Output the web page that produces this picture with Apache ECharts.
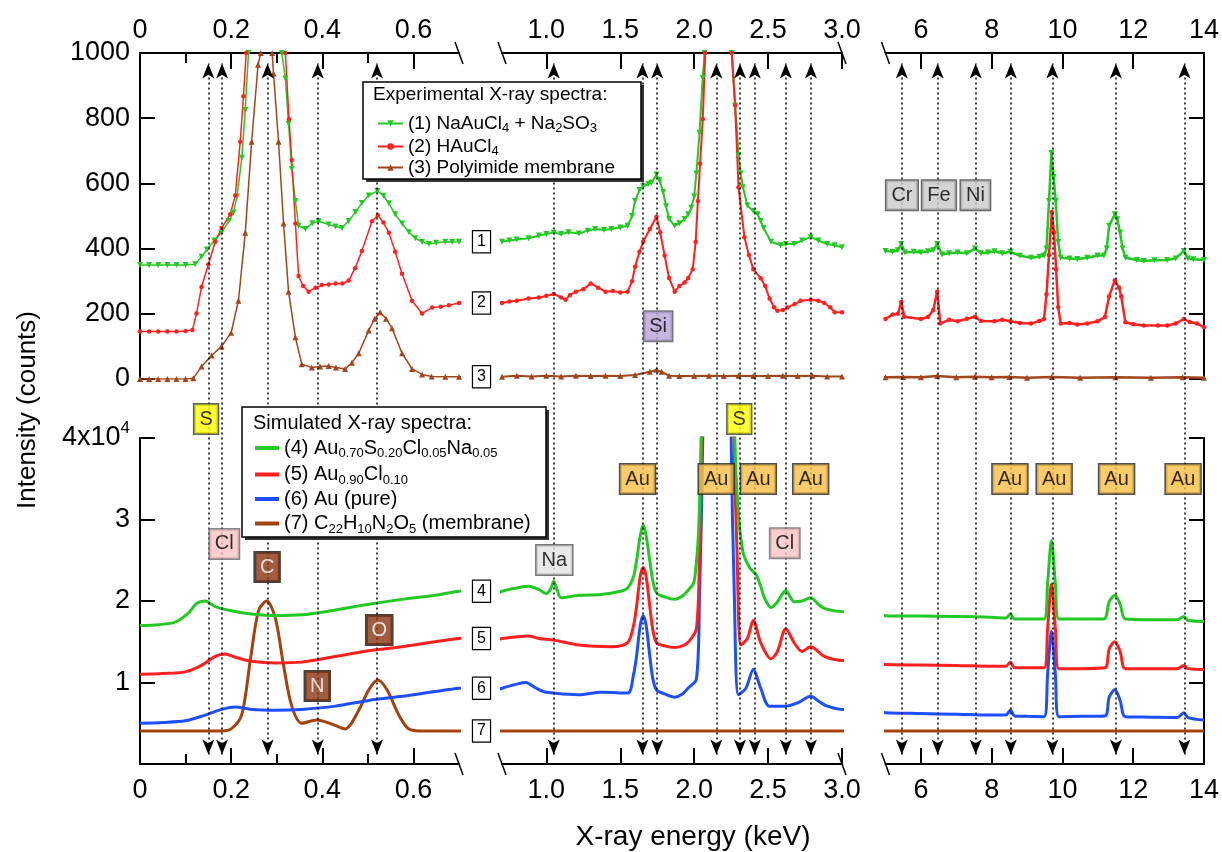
<!DOCTYPE html>
<html><head><meta charset="utf-8">
<script src="https://cdn.jsdelivr.net/npm/echarts/dist/echarts.min.js"></script>
<style>html,body{margin:0;padding:0;background:#fff}#c{width:1222px;height:852px}</style>
</head><body><div id="c"></div><script>
const FONT = "'Liberation Sans', Arial, Helvetica, sans-serif";

// ---------- DATA ----------
// Experimental spectra: [energy keV, counts]
const exp1 = [
 [0,350],[0.02,350],[0.04,350],[0.06,350],[0.08,350],[0.1,350],[0.121,352],[0.135,375],[0.147,397],[0.163,425],[0.179,449],[0.195,485],[0.205,511],[0.213,560],[0.2235,679],[0.231,825],[0.238,1000],[0.277,3200],[0.311,1000],[0.319,922],[0.326,783],[0.333,644],[0.341,546],[0.348,470],[0.363,460],[0.378,478],[0.392,484],[0.414,474],[0.429,468],[0.443,463],[0.458,485],[0.473,512],[0.487,540],[0.502,563],[0.521,577],[0.534,562],[0.546,539],[0.56,505],[0.575,477],[0.59,450],[0.604,432],[0.619,420],[0.634,414],[0.65,418],[0.67,421],[0.685,420],[0.7,421],
 [0.75,425],[0.8,428],[0.88,432],[0.95,440],[1.0,445],[1.05,449],[1.1,445],[1.15,450],[1.22,446],[1.28,455],[1.33,460],[1.39,457],[1.44,460],[1.5,465],[1.55,470],[1.58,500],[1.6,546],[1.63,580],[1.655,591],[1.69,598],[1.71,602],[1.745,627],[1.765,610],[1.79,574],[1.81,530],[1.83,491],[1.868,470],[1.9,478],[1.935,491],[1.96,505],[1.98,525],[2.0,560],[2.015,630],[2.036,755],[2.058,923],[2.07,1000],[2.16,5000],[2.254,1000],[2.277,839],[2.3,686],[2.315,630],[2.33,588],[2.36,532],[2.4,515],[2.43,505],[2.45,485],[2.47,463],[2.52,421],[2.585,410],[2.62,414],[2.676,414],[2.73,425],[2.788,435],[2.84,425],[2.9,414],[2.95,410],[3.0,404],
 [5.0,393],[5.2,390],[5.35,395],[5.445,414],[5.55,388],[5.8,390],[6.0,388],[6.2,392],[6.35,395],[6.46,414],[6.6,382],[6.8,386],[7.04,388],[7.3,386],[7.53,400],[7.7,386],[7.9,388],[8.08,392],[8.3,386],[8.53,390],[8.8,378],[9.11,372],[9.35,375],[9.48,379],[9.55,400],[9.62,546],[9.69,693],[9.75,620],[9.81,546],[9.88,420],[9.95,372],[10.2,370],[10.42,368],[10.7,372],[10.99,379],[11.17,379],[11.25,400],[11.32,470],[11.48,505],[11.55,490],[11.63,449],[11.7,400],[11.78,372],[12.1,365],[12.3,362],[12.6,364],[12.96,365],[13.2,370],[13.43,393],[13.55,370],[13.7,367],[14.0,365]
];
const exp2 = [
 [0,146],[0.02,146],[0.04,146],[0.06,146],[0.08,146],[0.1,147],[0.115,150],[0.124,201],[0.135,282],[0.15,351],[0.165,421],[0.179,463],[0.198,505],[0.209,563],[0.22,728],[0.227,867],[0.233,1000],[0.277,4000],[0.319,1000],[0.327,797],[0.333,672],[0.341,477],[0.348,316],[0.358,285],[0.37,268],[0.385,280],[0.399,288],[0.414,290],[0.429,293],[0.444,293],[0.458,302],[0.472,340],[0.487,393],[0.509,484],[0.522,502],[0.534,480],[0.546,449],[0.56,390],[0.575,323],[0.597,240],[0.619,201],[0.641,219],[0.66,222],[0.678,226],[0.7,233],
 [0.75,238],[0.8,240],[0.88,247],[0.95,250],[1.0,255],[1.05,261],[1.1,250],[1.13,243],[1.16,258],[1.2,268],[1.25,275],[1.3,293],[1.35,280],[1.4,268],[1.45,270],[1.5,265],[1.55,268],[1.58,300],[1.6,344],[1.63,390],[1.655,421],[1.7,460],[1.745,498],[1.77,450],[1.8,379],[1.83,310],[1.868,268],[1.9,285],[1.935,296],[1.96,310],[1.99,337],[2.01,420],[2.025,546],[2.04,660],[2.058,797],[2.075,1000],[2.16,6000],[2.254,1000],[2.277,839],[2.3,588],[2.34,435],[2.37,380],[2.4,337],[2.45,309],[2.48,285],[2.51,247],[2.54,220],[2.563,209],[2.6,212],[2.63,219],[2.68,230],[2.72,240],[2.788,243],[2.84,240],[2.88,233],[2.92,220],[2.95,205],[3.0,205],
 [5.0,184],[5.2,198],[5.35,200],[5.445,236],[5.53,191],[6.0,184],[6.2,190],[6.35,212],[6.46,268],[6.55,170],[6.8,182],[7.04,177],[7.3,185],[7.53,191],[7.7,178],[8.08,177],[8.3,182],[8.53,177],[8.8,172],[9.11,170],[9.35,178],[9.48,184],[9.55,260],[9.62,380],[9.7,512],[9.76,450],[9.82,337],[9.88,220],[9.95,170],[10.2,172],[10.42,167],[10.7,170],[10.99,177],[11.2,190],[11.32,254],[11.48,302],[11.6,280],[11.66,254],[11.78,174],[12.0,168],[12.3,164],[12.7,164],[12.96,164],[13.2,170],[13.43,184],[13.6,175],[13.8,170],[14.0,159]
];
const exp3 = [
 [0,0],[0.02,0],[0.04,0],[0.06,0],[0.08,0],[0.1,0],[0.117,2],[0.135,38],[0.157,72],[0.179,100],[0.2,142],[0.216,240],[0.231,449],[0.245,728],[0.259,964],[0.265,1000],[0.28,1080],[0.29,1000],[0.293,937],[0.304,728],[0.315,477],[0.326,268],[0.341,128],[0.355,45],[0.377,35],[0.395,38],[0.414,40],[0.43,35],[0.45,31],[0.465,50],[0.48,79],[0.502,149],[0.515,185],[0.527,205],[0.54,185],[0.553,156],[0.575,79],[0.597,31],[0.619,14],[0.64,8],[0.67,7],[0.7,7],
 [0.8,10],[0.9,8],[1.0,10],[1.1,8],[1.2,10],[1.3,9],[1.4,10],[1.5,9],[1.6,12],[1.7,22],[1.745,28],[1.78,22],[1.83,10],[1.9,9],[2.0,9],[2.1,10],[2.2,9],[2.3,10],[2.4,9],[2.5,9],[2.6,10],[2.7,9],[2.8,10],[2.9,8],[3.0,8],
 [5.0,5],[5.5,6],[6.0,5],[6.46,9],[7.0,5],[7.53,7],[8.0,5],[8.5,6],[9.0,4],[9.7,6],[10.5,4],[11.5,5],[12.5,4],[13.4,5],[14.0,4]
];
// Simulated spectra: [energy keV, counts x 10^4]
const sim4 = [
 [0,1.70],[0.04,1.71],[0.077,1.74],[0.106,1.85],[0.124,1.97],[0.143,2.0],[0.165,1.93],[0.2,1.88],[0.245,1.84],[0.297,1.82],[0.355,1.83],[0.429,1.89],[0.502,1.96],[0.575,2.02],[0.648,2.07],[0.7,2.12],
 [0.8,2.16],[0.88,2.18],[0.95,2.14],[1.0,2.09],[1.03,2.15],[1.05,2.24],[1.07,2.15],[1.1,2.04],[1.22,2.07],[1.37,2.08],[1.5,2.12],[1.55,2.16],[1.59,2.3],[1.61,2.49],[1.635,2.8],[1.655,2.93],[1.675,2.8],[1.7,2.49],[1.72,2.25],[1.745,2.1],[1.8,2.05],[1.868,2.02],[1.92,2.06],[1.958,2.13],[1.99,2.2],[2.003,2.27],[2.025,2.7],[2.036,3.16],[2.047,4.0],[2.16,20],[2.275,4.0],[2.295,3.16],[2.33,2.6],[2.375,2.41],[2.42,2.32],[2.45,2.18],[2.475,2.04],[2.52,1.92],[2.563,1.99],[2.62,2.13],[2.65,2.05],[2.676,1.99],[2.73,2.0],[2.788,2.04],[2.84,1.96],[2.88,1.91],[3.0,1.87],
 [5.0,1.82],[6.0,1.815],[7.0,1.81],[8.0,1.8],[8.4,1.79],[8.53,1.84],[8.65,1.78],[9.0,1.78],[9.48,1.78],[9.58,2.21],[9.69,2.74],[9.8,2.21],[9.9,1.78],[10.5,1.78],[11.17,1.78],[11.32,1.99],[11.48,2.07],[11.63,1.96],[11.78,1.78],[12.5,1.77],[13.25,1.77],[13.43,1.81],[13.55,1.76],[14.0,1.75]
];
const sim5 = [
 [0,1.10],[0.05,1.11],[0.099,1.13],[0.135,1.21],[0.165,1.32],[0.187,1.35],[0.209,1.31],[0.245,1.26],[0.297,1.24],[0.355,1.25],[0.429,1.32],[0.502,1.39],[0.575,1.44],[0.648,1.50],[0.7,1.54],
 [0.8,1.56],[0.88,1.57],[0.95,1.54],[1.05,1.52],[1.22,1.46],[1.44,1.44],[1.55,1.49],[1.59,1.7],[1.61,1.93],[1.635,2.3],[1.655,2.41],[1.675,2.3],[1.7,1.93],[1.72,1.65],[1.745,1.49],[1.8,1.45],[1.868,1.43],[1.92,1.45],[1.958,1.49],[2.015,1.66],[2.036,2.6],[2.05,4.0],[2.16,20],[2.27,4.0],[2.29,2.6],[2.317,1.46],[2.36,1.54],[2.4,1.76],[2.45,1.49],[2.52,1.29],[2.563,1.38],[2.62,1.66],[2.676,1.49],[2.73,1.38],[2.788,1.44],[2.88,1.32],[3.0,1.27],
 [5.0,1.22],[6.0,1.215],[7.0,1.21],[8.0,1.2],[8.4,1.2],[8.53,1.25],[8.65,1.18],[9.0,1.18],[9.48,1.18],[9.58,1.66],[9.69,2.21],[9.8,1.66],[9.9,1.17],[10.5,1.17],[11.2,1.18],[11.32,1.41],[11.48,1.5],[11.63,1.38],[11.78,1.17],[12.5,1.17],[13.25,1.17],[13.43,1.21],[13.55,1.17],[14.0,1.16]
];
const sim6 = [
 [0,0.50],[0.05,0.51],[0.099,0.53],[0.143,0.60],[0.179,0.67],[0.209,0.70],[0.245,0.67],[0.297,0.66],[0.355,0.67],[0.429,0.71],[0.502,0.78],[0.575,0.83],[0.648,0.89],[0.7,0.93],
 [0.8,0.98],[0.86,1.0],[0.93,0.93],[1.0,0.88],[1.22,0.85],[1.37,0.88],[1.55,0.87],[1.59,1.1],[1.61,1.32],[1.635,1.7],[1.655,1.82],[1.675,1.7],[1.7,1.32],[1.72,1.05],[1.745,0.91],[1.8,0.86],[1.868,0.82],[1.92,0.86],[1.958,0.93],[2.015,1.04],[2.036,2.04],[2.058,4.0],[2.16,20],[2.25,4.0],[2.272,2.04],[2.3,0.85],[2.35,0.93],[2.4,1.16],[2.45,0.93],[2.51,0.71],[2.62,0.71],[2.7,0.75],[2.788,0.83],[2.85,0.76],[2.9,0.71],[3.0,0.67],
 [5.0,0.63],[6.0,0.62],[7.0,0.61],[8.0,0.6],[8.4,0.6],[8.53,0.66],[8.65,0.59],[9.0,0.585],[9.48,0.58],[9.58,1.1],[9.69,1.63],[9.8,1.1],[9.9,0.58],[10.5,0.585],[11.2,0.59],[11.32,0.82],[11.48,0.91],[11.63,0.78],[11.78,0.58],[12.5,0.575],[13.25,0.57],[13.43,0.63],[13.55,0.57],[14.0,0.54]
];
const sim7 = [
 [0,0.405],[0.1,0.405],[0.18,0.405],[0.2,0.43],[0.223,0.6],[0.242,1.27],[0.26,1.88],[0.278,2.0],[0.297,1.79],[0.315,1.21],[0.333,0.71],[0.355,0.50],[0.388,0.54],[0.421,0.49],[0.45,0.43],[0.48,0.66],[0.502,0.91],[0.522,1.03],[0.542,0.91],[0.568,0.6],[0.59,0.43],[0.62,0.405],[0.7,0.405],
 [3.0,0.405],[5.0,0.405],[14.0,0.405]
];

const expNames = ['(1) NaAuCl4 + Na2SO3', '(2) HAuCl4', '(3) Polyimide membrane'];
const expRich  = ['(1) NaAuCl{s|4} + Na{s|2}SO{s|3}', '(2) HAuCl{s|4}', '(3) Polyimide membrane'];
const simNames = ['(4) Au0.70S0.20Cl0.05Na0.05', '(5) Au0.90Cl0.10', '(6) Au (pure)', '(7) C22H10N2O5 (membrane)'];
const simRich  = ['(4) Au{s|0.70}S{s|0.20}Cl{s|0.05}Na{s|0.05}', '(5) Au{s|0.90}Cl{s|0.10}', '(6) Au (pure)', '(7) C{s|22}H{s|10}N{s|2}O{s|5} (membrane)'];

// axis ranges / ticks / labels
const xRanges = [[0, 0.7], [0.7, 3.0], [5, 14]];
const xLabelVals = [[0, 0.2, 0.4, 0.6], [1, 1.5, 2, 2.5, 3], [6, 8, 10, 12, 14]];
const xTickVals = [[0.2, 0.4, 0.6], [1, 1.5, 2, 2.5, 3], [6, 8, 10, 12]];
const xMinorVals = [0.1, 0.3, 0.5];
const yTopVals = [0, 200, 400, 600, 800, 1000];
const yBotVals = [1, 2, 3, 4];

// characteristic line energies (arrows)
const peakEnergies = [
  [0.149, 0.182, 0.2785, 0.390, 0.522],
  [1.049, 1.651, 1.745, 2.155, 2.310, 2.407, 2.615, 2.788],
  [5.456, 6.47, 7.54, 8.53, 9.70, 11.49, 13.42]
];

// element annotations: [text, panel, row, energy, value, style]
const elementLabels = [
  ['Cr',2,0,5.465,564,'gray'],['Fe',2,0,6.51,564,'gray'],['Ni',2,0,7.54,564,'gray'],
  ['Si',1,0,1.756,162,'si'],
  ['S',0,1,0.145,4.233,'s'],['S',1,1,2.305,4.233,'s'],
  ['Au',1,1,1.617,3.497,'au'],['Au',1,1,2.149,3.497,'au'],['Au',1,1,2.434,3.497,'au'],['Au',1,1,2.788,3.497,'au'],
  ['Au',2,1,8.516,3.497,'au'],['Au',2,1,9.766,3.497,'au'],['Au',2,1,11.53,3.497,'au'],['Au',2,1,13.41,3.497,'au'],
  ['Na',1,1,1.054,2.503,'na'],['Cl',1,1,2.613,2.71,'cl'],
  ['Cl',0,1,0.185,2.70,'cl'],['C',0,1,0.279,2.417,'org'],['N',0,1,0.389,0.957,'org'],['O',0,1,0.525,1.644,'org']
];

// ---------- LAYOUT / STYLE ----------
const PX = [[140, 459], [502, 842], [885.5, 1205]];
const ROWS = [[53, 379], [438, 764]];
const ARROW = [63.5, 754.5];
const labelStyles = {
  gray:{bg:'#c9c9c9', border:'#444', color:'#000'},
  na:{bg:'#e4e4e4', border:'#555', color:'#000'},
  si:{bg:'#b8a2d8', border:'#555', color:'#000'},
  s:{bg:'#ffff00', border:'#333', color:'#000'},
  au:{bg:'#f9be45', border:'#222', color:'#000'},
  cl:{bg:'#f8c3c3', border:'#666', color:'#000'},
  org:{bg:'#8a3410', border:'#111', color:'#fff'}
};
const AX = {color:'#000', width:2};

const grids = [], xAxes = [], yAxes = [];
for (let r = 0; r < 2; r++) for (let p = 0; p < 3; p++)
  grids.push({left:PX[p][0], width:PX[p][1]-PX[p][0], top:ROWS[r][0], height:ROWS[r][1]-ROWS[r][0]});
for (let p = 0; p < 3; p++)
  grids.push({left:PX[p][0], width:PX[p][1]-PX[p][0], top:ARROW[0], height:ARROW[1]-ARROW[0]});
// duplicate grids of panel 1 (top and bottom rows) carrying the minor ticks
for (let r = 0; r < 2; r++)
  grids.push({left:PX[0][0], width:PX[0][1]-PX[0][0], top:ROWS[r][0], height:ROWS[r][1]-ROWS[r][0]});

const xFmt = [v => v === 0 ? '0' : v.toFixed(1), v => v.toFixed(1), v => String(v)];
for (let r = 0; r < 2; r++) for (let p = 0; p < 3; p++) {
  xAxes.push({
    gridIndex:r*3+p, type:'value', min:xRanges[p][0], max:xRanges[p][1], position:r===0?'top':'bottom',
    axisLine:{show:true, onZero:false, lineStyle:AX},
    axisTick:{show:true, inside:true, length:16, lineStyle:AX, customValues:xTickVals[p]},
    axisLabel:{show:true, customValues:xLabelVals[p], formatter:xFmt[p], fontSize:27, fontFamily:FONT, color:'#000', margin:r===0?9:13},
    splitLine:{show:false}
  });
}
for (let p = 0; p < 3; p++) xAxes.push({gridIndex:6+p, type:'value', min:xRanges[p][0], max:xRanges[p][1], show:false});
for (let r = 0; r < 2; r++) xAxes.push({
  gridIndex:9+r, type:'value', min:0, max:0.7, position:r===0?'top':'bottom',
  axisLine:{show:false, onZero:false}, axisLabel:{show:false}, splitLine:{show:false},
  axisTick:{show:true, inside:true, length:10, lineStyle:AX, customValues:xMinorVals}
});

const yLabelBase = {fontSize:27, fontFamily:FONT, color:'#000', margin:10};
yAxes.push({gridIndex:0, type:'value', min:0, max:1000, position:'left',
  axisLine:{show:true, lineStyle:AX}, splitLine:{show:false},
  axisTick:{show:true, inside:true, length:15, lineStyle:AX, customValues:yTopVals},
  axisLabel:Object.assign({customValues:yTopVals, formatter: v => String(v)}, yLabelBase)});
yAxes.push({gridIndex:1, type:'value', min:0, max:1000, show:false});
yAxes.push({gridIndex:2, type:'value', min:0, max:1000, position:'right',
  axisLine:{show:true, lineStyle:AX}, splitLine:{show:false}, axisLabel:{show:false},
  axisTick:{show:true, inside:true, length:15, lineStyle:AX, customValues:yTopVals}});
yAxes.push({gridIndex:3, type:'value', min:0, max:4, position:'left',
  axisLine:{show:true, lineStyle:AX}, splitLine:{show:false},
  axisTick:{show:true, inside:true, length:15, lineStyle:AX, customValues:yBotVals},
  axisLabel:Object.assign({customValues:yBotVals,
    formatter: v => v === 4 ? '{a|4x10}{b|4}' : String(v),
    rich:{a:{fontSize:27, fontFamily:FONT, color:'#000', lineHeight:30},
          b:{fontSize:17, fontFamily:FONT, color:'#000', lineHeight:17, padding:[0,0,20,0]}}}, yLabelBase)});
yAxes.push({gridIndex:4, type:'value', min:0, max:4, show:false});
yAxes.push({gridIndex:5, type:'value', min:0, max:4, position:'right',
  axisLine:{show:true, lineStyle:AX}, splitLine:{show:false}, axisLabel:{show:false},
  axisTick:{show:true, inside:true, length:15, lineStyle:AX, customValues:yBotVals}});
for (let p = 0; p < 3; p++) yAxes.push({gridIndex:6+p, type:'value', min:0, max:1, show:false});
for (let r = 0; r < 2; r++) yAxes.push({gridIndex:9+r, type:'value', min:0, max:1, show:false});

// ---------- SERIES ----------
const series = [];
const expDefs = [
  {data:exp1, color:'#22c922', symbol:'triangle', rot:180, size:6},
  {data:exp2, color:'#ff2020', symbol:'circle', rot:0, size:4.5},
  {data:exp3, color:'#a0451c', symbol:'triangle', rot:0, size:6}
];
const expWidth = [1.5, 2, 2.5];
expDefs.forEach((d, i) => {
  for (let p = 0; p < 3; p++) series.push({
    type:'line', name:expNames[i], data:d.data, xAxisIndex:p, yAxisIndex:p,
    color:d.color, lineStyle:{color:d.color, width:expWidth[p]},
    symbol:d.symbol, symbolRotate:d.rot, symbolSize:d.size, showSymbol:true, showAllSymbol:true,
    itemStyle:{color:d.color}, clip:true, silent:true, z:3
  });
});
const simDefs = [
  {data:sim4, color:'#22c922'}, {data:sim5, color:'#ff1f1f'},
  {data:sim6, color:'#1e4fff'}, {data:sim7, color:'#a3420f'}
];
simDefs.forEach((d, i) => {
  for (let p = 0; p < 3; p++) series.push({
    type:'line', name:simNames[i], data:d.data, xAxisIndex:3+p, yAxisIndex:3+p,
    color:d.color, lineStyle:{color:d.color, width:3}, symbol:'none', showSymbol:false,
    smooth:0.3, clip:true, silent:true, z:3 + (3 - i) * 0.1
  });
});
// arrows (dotted lines marking characteristic energies)
for (let p = 0; p < 3; p++) series.push({
  type:'line', xAxisIndex:6+p, yAxisIndex:6+p, data:[[xRanges[p][0], -1]], symbol:'none',
  lineStyle:{opacity:0}, silent:true, z:1,
  markLine:{silent:true, animation:false, symbol:['arrow','arrow'], symbolSize:[9,15],
    lineStyle:{color:'#000', type:[2,3], width:1.5, opacity:1}, label:{show:false},
    emphasis:{disabled:true}, data:peakEnergies[p].map(e => ({xAxis:e}))}
});
// element labels
elementLabels.forEach(l => {
  const st = labelStyles[l[5]];
  series.push({
    type:'scatter', xAxisIndex:l[2]*3+l[1], yAxisIndex:l[2]*3+l[1], clip:false, silent:true, z:9,
    symbolSize:1, itemStyle:{color:'rgba(0,0,0,0)'},
    data:[{value:[l[3], l[4]]}],
    label:{show:true, position:'inside', formatter:l[0], fontSize:20, fontFamily:FONT, color:st.color,
      backgroundColor:st.bg, borderColor:st.border, borderWidth:1.5, padding:[4,5,3,5], lineHeight:22}
  });
});

// ---------- DECORATIONS ----------
const graphics = [];
function box(x, y, w, h) {
  graphics.push({type:'rect', shape:{x:x+3, y:y+3, width:w, height:h}, style:{fill:'#333'}, z:7, silent:true});
  graphics.push({type:'rect', shape:{x, y, width:w, height:h}, style:{fill:'#fff', stroke:'#000', lineWidth:1.5}, z:8, silent:true});
}
box(363, 82, 278, 97);
box(242, 407, 304, 130);
graphics.push({type:'text', x:373, y:95, z:10, silent:true,
  style:{text:'Experimental X-ray spectra:', fontSize:19, fontFamily:FONT, fill:'#000', align:'left', verticalAlign:'middle'}});
graphics.push({type:'text', x:253, y:423, z:10, silent:true,
  style:{text:'Simulated X-ray spectra:', fontSize:20, fontFamily:FONT, fill:'#000', align:'left', verticalAlign:'middle'}});
graphics.push({type:'text', x:28, y:410, rotation:Math.PI/2, z:10, silent:true,
  style:{text:'Intensity (counts)', fontSize:26, fontFamily:FONT, fill:'#000', align:'center', verticalAlign:'middle'}});
graphics.push({type:'text', x:693, y:837, z:10, silent:true,
  style:{text:'X-ray energy (keV)', fontSize:28, fontFamily:FONT, fill:'#000', align:'center', verticalAlign:'middle'}});
[PX[0][1], PX[1][0], PX[1][1], PX[2][0]].forEach(x => {
  [ROWS[0][0], ROWS[1][1]].forEach(y => {
    graphics.push({type:'line', shape:{x1:x-4, y1:y-11, x2:x+4, y2:y+11}, style:{stroke:'#000', lineWidth:1.5}, z:10, silent:true});
  });
});

const legendText = (fs, lh) => ({fontSize:fs, fontFamily:FONT, color:'#000', lineHeight:lh,
  rich:{s:{fontSize:13, fontFamily:FONT, color:'#000', lineHeight:9, padding:[lh-9,0,0,0]}}});

const chart = echarts.init(document.getElementById('c'), null, {width:1222, height:852});
chart.setOption({
  animation:false,
  backgroundColor:'#fff',
  textStyle:{fontFamily:FONT},
  grid:grids, xAxis:xAxes, yAxis:yAxes, series,
  legend:[
    {data:expNames, left:377, top:112, orient:'vertical', itemWidth:25, itemHeight:8, itemGap:0, padding:0,
     selectedMode:false, z:10, formatter:n => expRich[expNames.indexOf(n)], textStyle:legendText(19, 19)},
    {data:simNames, left:255, top:436, orient:'vertical', itemWidth:24, itemHeight:4, itemGap:2.5, padding:0, icon:'rect',
     selectedMode:false, z:10, formatter:n => simRich[simNames.indexOf(n)], textStyle:legendText(20, 20)}
  ],
  graphic:graphics
});

// numbered curve tags between panels 1 and 2, at each spectrum's value at 0.7 keV
const tagX = (PX[0][1] + PX[1][0]) / 2 + 1;
const tagged = [[exp1,0],[exp2,0],[exp3,0],[sim4,3],[sim5,3],[sim6,3],[sim7,3]];
const tags = tagged.map((t, i) => {
  const pt = t[0].find(d => d[0] === 0.7);
  const pix = chart.convertToPixel({xAxisIndex:t[1], yAxisIndex:t[1]}, pt);
  return {type:'text', x:tagX, y:pix[1], z:11, silent:true,
    style:{text:String(i+1), fontSize:16, fontFamily:FONT, fill:'#000', align:'center', verticalAlign:'middle',
      backgroundColor:'#fff', borderColor:'#000', borderWidth:1.2, padding:[3,4,2,4]}};
});
chart.setOption({graphic:graphics.concat(tags)});
</script></body></html>
